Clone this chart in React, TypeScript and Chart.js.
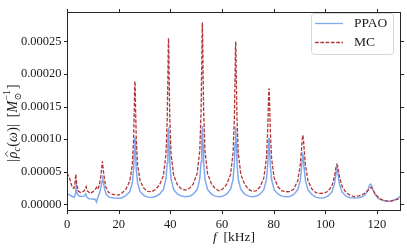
import React, { useEffect, useRef } from "react";
import { Chart, registerables } from "chart.js";
Chart.register(...registerables);

const xTicks = [0, 20, 40, 60, 80, 100, 120];
const xTickLabels = ["0", "20", "40", "60", "80", "100", "120"];
const yTicks = [0, 5e-5, 10e-5, 15e-5, 20e-5, 25e-5];
const yTickLabels = ["0.00000", "0.00005", "0.00010", "0.00015", "0.00020", "0.00025"];
const xMin = 0;
const xMax = 129.3;
const yMin = -1.03e-5;
const yMax = 29.36e-5;
const seriesNames = ["PPAO", "MC"];

const freqPPAO = [
  0, 1.0, 2.0, 2.8, 3.3, 3.6, 3.9, 4.5, 5.5, 6.6, 7.2, 7.6, 8.5, 10.0, 11.0, 11.4, 11.8, 12.5, 13.2, 13.6, 13.8, 14.0, 14.5, 15.2, 16.3, 18.0, 20.0,
  21.3, 22.8, 24.3, 25.3, 25.8, 26.05, 26.2, 26.3, 26.4, 26.55, 26.8, 27.3, 28.3, 29.8, 31.3, 32.8,
  34.3, 35.8, 37.3, 38.3, 38.8, 39.05, 39.2, 39.3, 39.4, 39.55, 39.8, 40.3, 41.3, 42.8, 44.3, 45.8,
  47.4, 48.9, 50.4, 51.4, 51.9, 52.15, 52.3, 52.4, 52.5, 52.65, 52.9, 53.4, 54.4, 55.9, 57.4, 58.8,
  60.3, 61.8, 63.3, 64.3, 64.8, 65.05, 65.2, 65.3, 65.4, 65.55, 65.8, 66.3, 67.3, 68.8, 70.3, 71.7,
  73.2, 74.7, 76.2, 77.2, 77.7, 77.95, 78.1, 78.2, 78.3, 78.45, 78.7, 79.2, 80.2, 81.7, 83.2, 84.7,
  86.3, 87.8, 89.3, 90.3, 90.8, 91.05, 91.2, 91.3, 91.4, 91.55, 91.8, 92.3, 93.3, 94.8, 96.3, 97.9,
  99.5, 101.0, 102.5, 103.5, 104.0, 104.25, 104.5, 104.75, 105.0, 105.5, 106.5, 108.0, 109.5, 111.0,
  113.0, 114.5, 115.7, 116.5, 117.1, 117.5, 117.9, 118.5, 119.3, 120.5, 122.0, 124.0, 125.5, 127.0, 128.3, 129.3,
];
const valPPAO = [
  1.65e-5, 1.45e-5, 1.2e-5, 1.05e-5, 1.6e-5, 2.8e-5, 1.7e-5, 1.3e-5, 1.2e-5, 1.25e-5, 1.6e-5, 1.15e-5, 0.85e-5, 0.8e-5, 0.75e-5, 0.35e-5, 0.9e-5, 1.6e-5, 2.7e-5, 3.6e-5, 3.9e-5, 3.6e-5, 2.4e-5, 1.5e-5, 1.1e-5, 0.95e-5, 0.93e-5,
  1.0e-5, 1.33e-5, 1.94e-5, 3.28e-5, 5.5e-5, 7.95e-5, 9.7e-5, 10.2e-5, 9.7e-5, 7.95e-5, 5.5e-5, 3.28e-5, 1.94e-5, 1.33e-5, 1.1e-5, 1.05e-5,
  1.2e-5, 1.56e-5, 2.26e-5, 3.81e-5, 6.36e-5, 9.2e-5, 11.2e-5, 11.8e-5, 11.2e-5, 9.2e-5, 6.36e-5, 3.81e-5, 2.26e-5, 1.56e-5, 1.27e-5, 1.15e-5,
  1.22e-5, 1.57e-5, 2.29e-5, 3.87e-5, 6.46e-5, 9.36e-5, 11.4e-5, 12.0e-5, 11.4e-5, 9.36e-5, 6.46e-5, 3.87e-5, 2.29e-5, 1.57e-5, 1.25e-5, 1.15e-5,
  1.22e-5, 1.57e-5, 2.27e-5, 3.84e-5, 6.4e-5, 9.28e-5, 11.3e-5, 11.9e-5, 11.3e-5, 9.28e-5, 6.4e-5, 3.84e-5, 2.27e-5, 1.57e-5, 1.25e-5, 1.15e-5,
  1.22e-5, 1.56e-5, 2.25e-5, 3.77e-5, 6.1e-5, 8.41e-5, 9.84e-5, 10.2e-5, 9.84e-5, 8.41e-5, 6.1e-5, 3.77e-5, 2.25e-5, 1.56e-5, 1.25e-5, 1.15e-5,
  1.2e-5, 1.5e-5, 2.22e-5, 3.67e-5, 5.5e-5, 6.85e-5, 7.46e-5, 7.6e-5, 7.46e-5, 6.85e-5, 5.5e-5, 3.67e-5, 2.22e-5, 1.5e-5, 1.1e-5, 0.95e-5,
  1.0e-5, 1.26e-5, 1.86e-5, 3.03e-5, 4.32e-5, 5.1e-5, 5.5e-5, 5.1e-5, 4.32e-5, 3.03e-5, 1.86e-5, 1.26e-5, 1.0e-5, 0.95e-5,
  1.0e-5, 1.2e-5, 1.6e-5, 2.2e-5, 2.9e-5, 3.1e-5, 2.9e-5, 2.2e-5, 1.5e-5, 0.9e-5, 0.6e-5, 0.45e-5, 0.5e-5, 0.7e-5, 1.0e-5, 1.35e-5,
];

const freqMC = [
  0, 1.0, 2.0, 2.7, 3.1, 3.4, 3.8, 4.5, 5.2, 6.5, 7.1, 7.4, 7.8, 8.9, 10.0, 11.0, 11.4, 11.9, 12.5, 13.1, 13.5, 13.7, 13.9, 14.3, 15.0, 16.1, 18.0, 20.0,
  21.3, 22.8, 24.3, 25.3, 25.8, 26.05, 26.2, 26.3, 26.4, 26.55, 26.8, 27.3, 28.3, 29.8, 31.3, 32.8,
  34.3, 35.8, 37.3, 38.3, 38.8, 39.05, 39.2, 39.3, 39.4, 39.55, 39.8, 40.3, 41.3, 42.8, 44.3, 45.8,
  47.4, 48.9, 50.4, 51.4, 51.9, 52.15, 52.3, 52.4, 52.5, 52.65, 52.9, 53.4, 54.4, 55.9, 57.4, 58.8,
  60.3, 61.8, 63.3, 64.3, 64.8, 65.05, 65.2, 65.3, 65.4, 65.55, 65.8, 66.3, 67.3, 68.8, 70.3, 71.7,
  73.2, 74.7, 76.2, 77.2, 77.7, 77.95, 78.1, 78.2, 78.3, 78.45, 78.7, 79.2, 80.2, 81.7, 83.2, 84.7,
  86.3, 87.8, 89.3, 90.3, 90.8, 91.05, 91.3, 91.55, 91.8, 92.3, 93.3, 94.8, 96.3, 97.9,
  99.5, 101.0, 102.5, 103.5, 104.0, 104.25, 104.5, 104.75, 105.0, 105.5, 106.5, 108.0, 109.5, 111.1,
  113.0, 114.5, 115.7, 116.7, 117.3, 117.7, 118.1, 118.7, 119.7, 121.0, 122.5, 124.0, 125.5, 127.0, 128.5, 129.3,
];
const valMC = [
  4.8e-5, 4.0e-5, 2.6e-5, 2.45e-5, 3.2e-5, 4.6e-5, 2.9e-5, 2.0e-5, 1.8e-5, 2.0e-5, 2.4e-5, 2.7e-5, 2.1e-5, 1.67e-5, 1.9e-5, 2.3e-5, 2.6e-5, 2.3e-5, 2.9e-5, 4.3e-5, 5.8e-5, 6.6e-5, 5.8e-5, 4.4e-5, 2.7e-5, 1.8e-5, 1.5e-5, 1.4e-5,
  1.75e-5, 2.3e-5, 3.56e-5, 6.07e-5, 10.2e-5, 14.7e-5, 18.0e-5, 18.9e-5, 18.0e-5, 14.7e-5, 10.2e-5, 6.07e-5, 3.56e-5, 2.44e-5, 1.98e-5, 1.92e-5,
  2.3e-5, 2.95e-5, 4.4e-5, 7.6e-5, 13.0e-5, 19.3e-5, 24.1e-5, 25.5e-5, 24.1e-5, 19.3e-5, 13.0e-5, 7.6e-5, 4.4e-5, 2.95e-5, 2.37e-5, 2.17e-5,
  2.45e-5, 3.14e-5, 4.74e-5, 8.26e-5, 14.2e-5, 21.1e-5, 26.3e-5, 27.9e-5, 26.3e-5, 21.1e-5, 14.2e-5, 8.26e-5, 4.74e-5, 3.14e-5, 2.4e-5, 2.06e-5,
  2.35e-5, 3.05e-5, 4.56e-5, 7.9e-5, 13.3e-5, 19.4e-5, 23.8e-5, 25.0e-5, 23.8e-5, 19.4e-5, 13.3e-5, 7.9e-5, 4.56e-5, 3.05e-5, 2.3e-5, 2.0e-5,
  2.07e-5, 2.65e-5, 4.05e-5, 7.05e-5, 11.4e-5, 15.2e-5, 17.3e-5, 17.8e-5, 17.3e-5, 15.2e-5, 11.4e-5, 7.05e-5, 4.05e-5, 2.65e-5, 2.07e-5, 1.92e-5,
  1.95e-5, 2.35e-5, 3.6e-5, 6.0e-5, 8.5e-5, 9.9e-5, 10.6e-5, 9.9e-5, 8.5e-5, 6.0e-5, 3.6e-5, 2.35e-5, 1.8e-5, 1.67e-5,
  1.7e-5, 2.0e-5, 2.74e-5, 4.2e-5, 5.4e-5, 5.9e-5, 6.1e-5, 5.9e-5, 5.4e-5, 4.2e-5, 2.74e-5, 1.82e-5, 1.41e-5, 1.18e-5,
  1.3e-5, 1.5e-5, 1.8e-5, 2.2e-5, 2.5e-5, 2.6e-5, 2.45e-5, 2.0e-5, 1.4e-5, 0.9e-5, 0.6e-5, 0.5e-5, 0.5e-5, 0.65e-5, 0.85e-5, 0.95e-5,
];

const BLUE = "#80a9f0";
const RED = "#b33636";
const DASH = [3.7, 1.6];
const SERIF = '"Liberation Serif", "DejaVu Serif", serif';
const TXT = "#1a1a1a";

function zip(xs: number[], ys: number[]) {
  return xs.map((x, i) => ({ x, y: ys[i] }));
}

function drawYLabel(ctx: CanvasRenderingContext2D, cx: number, cy: number) {
  const fs = 14;
  const sfs = fs * 0.7;
  const R = `${fs}px ${SERIF}`;
  const I = `italic ${fs}px ${SERIF}`;
  const SR = `${sfs}px ${SERIF}`;
  const SI = `italic ${sfs}px ${SERIF}`;
  type Seg = { t?: string; f?: string; dy?: number; hat?: boolean; sub?: string; sup?: string; gap?: number };
  const segs: Seg[] = [
    { t: "|", f: R, gap: 0.5 },
    { t: "ρ", f: I, hat: true },
    { t: "c", f: SI, dy: 0.22 * fs, gap: 0.5 },
    { t: "(", f: R },
    { t: "ω", f: I, gap: 0.5 },
    { t: ")", f: R },
    { t: "|", f: R },
    { t: "  [", f: R },
    { t: "M", f: I, gap: 0.5 },
    { sub: "⊙", sup: "−1" },
    { t: "]", f: R },
  ];
  const widths = segs.map((s) => {
    if (s.sub !== undefined) {
      ctx.font = SR;
      return Math.max(ctx.measureText(s.sub).width, ctx.measureText(s.sup!).width) + 1;
    }
    ctx.font = s.f!;
    return ctx.measureText(s.t!).width + (s.gap || 0);
  });
  const total = widths.reduce((a, b) => a + b, 0);
  ctx.save();
  ctx.translate(cx, cy);
  ctx.rotate(-Math.PI / 2);
  ctx.fillStyle = TXT;
  ctx.textBaseline = "alphabetic";
  ctx.textAlign = "left";
  let x = -total / 2;
  segs.forEach((s, i) => {
    if (s.sub !== undefined) {
      ctx.font = SR;
      ctx.fillText(s.sub, x, 0.3 * fs);
      ctx.fillText(s.sup!, x, -0.45 * fs);
    } else {
      ctx.font = s.f!;
      ctx.fillText(s.t!, x, s.dy || 0);
      if (s.hat) {
        const w = ctx.measureText(s.t!).width;
        const mx = x + w / 2 + 1;
        ctx.beginPath();
        ctx.strokeStyle = TXT;
        ctx.lineWidth = 0.8;
        ctx.moveTo(mx - 2.5, -0.62 * fs);
        ctx.lineTo(mx, -0.8 * fs);
        ctx.lineTo(mx + 2.5, -0.62 * fs);
        ctx.stroke();
      }
    }
    x += widths[i];
  });
  ctx.restore();
}

const decorPlugin = {
  id: "decor",
  afterDraw(chart: any) {
    const { ctx, chartArea: a, scales } = chart;
    const xs = scales.x;
    const ys = scales.y;
    const L = Math.round(a.left) + 0.5;
    const Rr = Math.round(a.right) - 0.5;
    const T = Math.round(a.top) - 0.5;
    const B = Math.round(a.bottom) - 0.5;
    ctx.save();
    ctx.strokeStyle = "#262626";
    ctx.lineWidth = 1;
    ctx.strokeRect(L, T, Rr - L, B - T);
    const tl = 3.5;
    ctx.beginPath();
    xTicks.forEach((v) => {
      const px = Math.round(xs.getPixelForValue(v)) + 0.5;
      ctx.moveTo(px, B);
      ctx.lineTo(px, B + tl);
      ctx.moveTo(px, T);
      ctx.lineTo(px, T - tl);
    });
    yTicks.forEach((v) => {
      const py = Math.round(ys.getPixelForValue(v)) + 0.5;
      ctx.moveTo(L, py);
      ctx.lineTo(L - tl, py);
      ctx.moveTo(Rr, py);
      ctx.lineTo(Rr + tl, py);
    });
    ctx.stroke();

    // legend
    const lx = 311.5, ly = 13.5, lw = 82, lh = 41, r = 3;
    ctx.beginPath();
    ctx.moveTo(lx + r, ly);
    ctx.lineTo(lx + lw - r, ly);
    ctx.quadraticCurveTo(lx + lw, ly, lx + lw, ly + r);
    ctx.lineTo(lx + lw, ly + lh - r);
    ctx.quadraticCurveTo(lx + lw, ly + lh, lx + lw - r, ly + lh);
    ctx.lineTo(lx + r, ly + lh);
    ctx.quadraticCurveTo(lx, ly + lh, lx, ly + lh - r);
    ctx.lineTo(lx, ly + r);
    ctx.quadraticCurveTo(lx, ly, lx + r, ly);
    ctx.closePath();
    ctx.fillStyle = "rgba(255,255,255,0.8)";
    ctx.fill();
    ctx.strokeStyle = "#d6d6d6";
    ctx.stroke();

    const rows = [
      { y: 23.5, color: BLUE, dash: [] as number[], w: 1.3 },
      { y: 42.5, color: RED, dash: DASH, w: 1.3 },
    ];
    rows.forEach((row, i) => {
      ctx.beginPath();
      ctx.setLineDash(row.dash);
      ctx.strokeStyle = row.color;
      ctx.lineWidth = row.w;
      ctx.moveTo(315, row.y);
      ctx.lineTo(343, row.y);
      ctx.stroke();
      ctx.setLineDash([]);
      ctx.fillStyle = TXT;
      ctx.font = `13.5px ${SERIF}`;
      ctx.textBaseline = "middle";
      ctx.textAlign = "left";
      ctx.fillText(seriesNames[i], 354, row.y);
    });

    // x label
    ctx.fillStyle = TXT;
    ctx.textBaseline = "middle";
    ctx.textAlign = "left";
    ctx.font = `italic 13.5px ${SERIF}`;
    const fW = ctx.measureText("f").width;
    ctx.font = `13.5px ${SERIF}`;
    const restW = ctx.measureText("  [kHz]").width;
    const startX = (a.left + a.right) / 2 - (fW + restW) / 2;
    ctx.font = `italic 13.5px ${SERIF}`;
    ctx.fillText("f", startX, 237);
    ctx.font = `13.5px ${SERIF}`;
    ctx.fillText("  [kHz]", startX + fW, 237);

    drawYLabel(ctx, 16.5, 123);
    ctx.restore();
  },
};

export default function App() {
  const ref = useRef<HTMLCanvasElement | null>(null);
  useEffect(() => {
    document.body.style.margin = "0";
    const canvas = ref.current!;
    const chart = new Chart(canvas, {
      type: "line",
      data: {
        datasets: [
          {
            label: seriesNames[0],
            data: zip(freqPPAO, valPPAO),
            borderColor: BLUE,
            borderWidth: 1.5,
            pointRadius: 0,
            tension: 0,
            order: 1,
          },
          {
            label: seriesNames[1],
            data: zip(freqMC, valMC),
            borderColor: RED,
            borderWidth: 1.3,
            borderDash: DASH,
            pointRadius: 0,
            tension: 0,
            order: 0,
          },
        ],
      },
      options: {
        responsive: false,
        animation: false,
        devicePixelRatio: 1,
        layout: { padding: { left: 0, top: 5, right: 6, bottom: 0 } },
        plugins: { legend: { display: false }, tooltip: { enabled: false } },
        scales: {
          x: {
            type: "linear",
            min: xMin,
            max: xMax,
            grid: { display: false, drawTicks: false },
            border: { display: false },
            afterBuildTicks: (s: any) => {
              s.ticks = xTicks.map((v) => ({ value: v }));
            },
            afterFit: (s: any) => {
              s.height = 37;
            },
            ticks: {
              autoSkip: false,
              maxRotation: 0,
              padding: 6,
              color: TXT,
              font: { family: SERIF, size: 12.5 },
              callback: (_v: any, i: number) => xTickLabels[i],
            },
          },
          y: {
            type: "linear",
            min: yMin,
            max: yMax,
            grid: { display: false, drawTicks: false },
            border: { display: false },
            afterBuildTicks: (s: any) => {
              s.ticks = yTicks.map((v) => ({ value: v }));
            },
            afterFit: (s: any) => {
              s.width = 67;
            },
            ticks: {
              autoSkip: false,
              padding: 5.5,
              color: TXT,
              font: { family: SERIF, size: 12.5 },
              callback: (_v: any, i: number) => yTickLabels[i],
            },
          },
        },
      },
      plugins: [decorPlugin],
    });
    return () => chart.destroy();
  }, []);
  return (
    <div style={{ position: "fixed", left: 0, top: 0, width: 407, height: 248 }}>
      <canvas ref={ref} width={407} height={248} />
    </div>
  );
}
